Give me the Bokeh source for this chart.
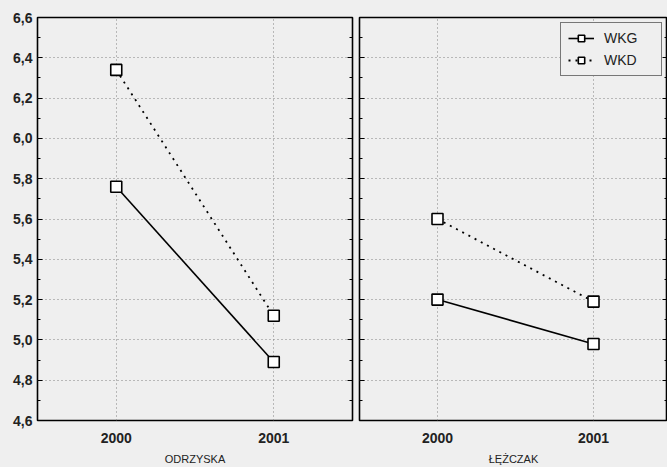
from bokeh.plotting import figure
from bokeh.layouts import row
from bokeh.models import FixedTicker, CustomJSTickFormatter, LinearAxis, Range1d
from bokeh.embed import file_html
from bokeh.resources import INLINE

years = ["2000", "2001"]
panels = ["ODRZYSKA", "ŁĘŻCZAK"]
wkg_odrzyska = [5.76, 4.89]
wkd_odrzyska = [6.34, 5.12]
wkg_lezczak = [5.20, 4.98]
wkd_lezczak = [5.60, 5.19]
y_ticks = [4.6, 4.8, 5.0, 5.2, 5.4, 5.6, 5.8, 6.0, 6.2, 6.4, 6.6]
y_minor = [4.7, 4.9, 5.1, 5.3, 5.5, 5.7, 5.9, 6.1, 6.3, 6.5]

BG = "#efefef"
FONT = "Liberation Sans"
xs = list(range(len(years)))


def style_axis(ax, labels=True):
    ax.axis_line_color = None
    ax.major_tick_in = 5
    ax.major_tick_out = 0
    ax.minor_tick_in = 3
    ax.minor_tick_out = 0
    ax.major_tick_line_color = "black"
    ax.minor_tick_line_color = "black"
    ax.major_label_text_font = FONT
    ax.major_label_text_font_style = "bold"
    ax.major_label_text_color = "#222222"
    ax.major_label_text_font_size = "14px"
    if labels:
        ax.formatter = CustomJSTickFormatter(code="return tick.toFixed(1).replace('.', ',');")
        ax.major_label_standoff = 5
    else:
        ax.formatter = CustomJSTickFormatter(code="return '';")
        ax.major_label_standoff = 0


def make_panel(title, wkg, wkd, width, x_end, left_axis, min_left, min_right, legend):
    p = figure(width=width, height=467, output_backend="svg", toolbar_location=None,
               x_range=Range1d(-0.5, x_end), y_range=Range1d(4.6, 6.6),
               y_axis_location=None, x_axis_location="below",
               background_fill_color=BG, border_fill_color=BG,
               min_border_left=min_left, min_border_right=min_right,
               min_border_top=17, min_border_bottom=44)
    p.outline_line_color = "black"
    p.outline_line_width = 1.6
    yt = FixedTicker(ticks=y_ticks, minor_ticks=y_minor)
    la = LinearAxis(ticker=yt)
    style_axis(la, labels=left_axis)
    p.add_layout(la, "left")
    ra = LinearAxis(ticker=yt)
    style_axis(ra, labels=False)
    p.add_layout(ra, "right")

    xa = p.xaxis[0]
    xa.ticker = FixedTicker(ticks=xs)
    xa.formatter = CustomJSTickFormatter(args=dict(labels=years),
                                         code="return labels[Math.round(tick)];")
    xa.axis_line_color = None
    xa.major_tick_line_color = None
    xa.minor_tick_line_color = None
    xa.major_label_text_font = FONT
    xa.major_label_text_font_style = "bold"
    xa.major_label_text_font_size = "14px"
    xa.major_label_text_color = "#222222"
    xa.major_label_standoff = 6
    xa.axis_label = title
    xa.axis_label_text_font = FONT
    xa.axis_label_text_font_style = "normal"
    xa.axis_label_text_font_size = "11px"
    xa.axis_label_text_color = "#222222"
    xa.axis_label_standoff = 7

    p.ygrid.ticker = yt
    p.xgrid.ticker = FixedTicker(ticks=xs)
    for g in (p.xgrid[0], p.ygrid[0]):
        g.grid_line_color = "#808080"
        g.grid_line_dash = "1 3"
        g.grid_line_width = 1

    kw_g = dict(legend_label="WKG") if legend else {}
    kw_d = dict(legend_label="WKD") if legend else {}
    p.line(xs, wkg, line_color="black", line_width=1.6, **kw_g)
    p.scatter(xs, wkg, marker="square", size=11, fill_color="white",
              line_color="black", line_width=1.6, **kw_g)
    p.line(xs, wkd, line_color="black", line_width=1.8, line_dash="2 5", **kw_d)
    p.scatter(xs, wkd, marker="square", size=11, fill_color="white",
              line_color="black", line_width=1.6, **kw_d)
    if legend:
        lg = p.legend[0]
        lg.location = "top_right"
        lg.margin = 5
        lg.border_line_color = "black"
        lg.border_line_width = 1.3
        lg.background_fill_color = BG
        lg.background_fill_alpha = 1
        lg.label_text_font = FONT
        lg.label_text_font_size = "14px"
        lg.label_text_color = "#222222"
        lg.glyph_width = 26
        lg.glyph_height = 16
        lg.label_height = 16
        lg.label_width = 50
        lg.label_standoff = 10
        lg.spacing = 6
        lg.padding = 7
    return p


p1 = make_panel(panels[0], wkg_odrzyska, wkd_odrzyska, 355, 1.5, True, 37, 3, False)
p2 = make_panel(panels[1], wkg_lezczak, wkd_lezczak, 312, -0.5 + 308 / 156, False, 4, 0, True)

layout = row(p1, p2, spacing=0)
layout.styles = {"background-color": BG}
open("out.html", "w").write(file_html(layout, INLINE))
